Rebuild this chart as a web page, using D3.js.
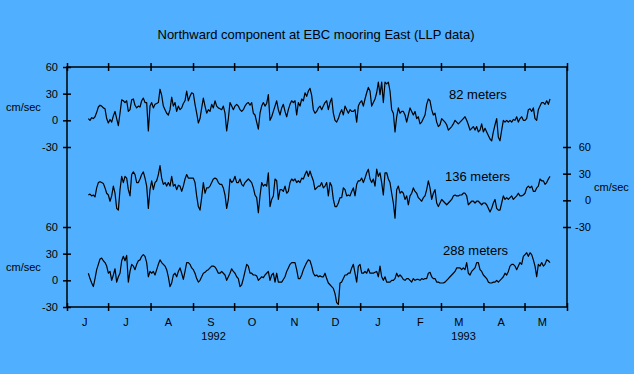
<!DOCTYPE HTML>
<html>
  <head>
    <meta charset="utf-8">
    <style>
      body { margin: 0; background: #50b0ff; }
      svg text { font-family: "Liberation Sans", Arial, sans-serif; fill: #000; }
    </style>
  </head>
  <body>

    <script type="text/javascript" src="https://cdn.jsdelivr.net/npm/d3@7/dist/d3.min.js"></script>

    <script>

        // *** DATA ***

        var titleText = 'Northward component at EBC mooring East (LLP data)';
        var unitLabel = 'cm/sec';
        var depthLabels = ['82 meters', '136 meters', '288 meters'];

        // regular sampling, first sample and spacing
        var startTime = Date.UTC(1992, 5, 16, 14);
        var stepHours = 29.2;

        // Northward velocity (cm/sec) at 82 m
        var v82 = [2,0,3,2,4,9,15,17,16,14,13,2,-3,1,-2,5,10,2,-6,8,
            23,22,20,22,10,12,23,24,17,14,16,15,22,25,20,20,-12,16,20,14,
            18,19,20,35,28,16,12,8,6,12,26,16,20,10,16,12,14,19,22,33,
            22,27,31,30,18,8,-3,2,14,25,16,8,12,10,18,14,22,16,14,13,
            12,16,8,-12,2,20,16,12,16,18,16,12,10,12,16,19,20,17,20,8,
            6,-2,-10,8,16,20,16,19,29,0,4,10,16,22,12,6,14,18,10,4,
            12,18,22,20,22,6,20,16,24,22,31,27,33,36,28,12,8,10,14,16,
            12,16,20,22,12,
            20,25,8,0,-2,2,8,12,6,16,12,8,12,10,10,12,-2,16,20,22,
            16,24,31,37,33,16,20,24,31,43,29,43,20,43,41,43,33,12,8,-13,
            4,14,8,10,10,6,-2,6,14,10,6,10,2,4,-4,-2,2,6,18,24,
            22,12,6,8,-2,-7,-5,2,0,-2,-5,-11,-9,-7,-4,0,-2,-4,-2,0,
            2,4,0,-5,-11,-9,-7,-11,-7,-13,-11,-4,-13,-9,-13,-17,-21,-23,-13,-5,
            2,-19,-23,-11,0,-2,0,-2,0,-2,1,0,4,-2,2,4,0,0,2,12,
            13,10,14,2,0,12,16,20,20,18,22,18,24];

        // Northward velocity (cm/sec) at 136 m
        var v136 = [6,7,5,6,4,14,20,21,20,19,14,8,6,-1,5,16,8,-9,-11,12,
            27,20,27,25,12,5,29,32,29,20,20,24,29,32,25,16,-9,12,22,12,
            20,22,29,39,25,18,20,16,20,16,27,16,18,12,17,16,10,16,24,29,
            25,25,25,25,20,5,-7,-11,3,20,8,14,14,16,20,24,25,24,20,18,
            18,14,6,-9,1,24,20,22,27,20,20,24,18,16,20,22,24,22,20,14,
            6,3,-14,5,20,16,18,16,31,-7,1,5,24,22,1,12,12,10,16,8,
            10,20,24,22,24,20,22,20,25,24,29,33,27,33,27,22,12,14,16,16,
            20,14,16,20,5,
            20,16,1,-7,-7,-3,3,3,14,12,5,6,5,10,14,5,18,22,22,25,
            20,25,31,35,24,20,24,16,35,27,31,20,6,31,31,24,20,8,-3,-20,
            12,16,8,10,8,1,5,-5,5,8,14,10,8,3,1,-1,3,5,12,22,
            14,1,8,12,-3,-7,-3,1,-1,-3,-5,-3,-1,1,5,6,5,5,6,6,
            8,8,5,-5,-3,-1,-1,-3,-1,-1,-3,-5,-3,-3,-5,-9,-13,-9,-3,1,
            -9,-11,-11,-3,5,1,3,1,3,5,1,3,5,8,5,5,6,8,14,16,
            14,16,10,10,14,16,24,22,22,18,20,24,27];

        // Northward velocity (cm/sec) at 288 m
        var v288 = [8,2,-3,-7,2,12,18,24,25,22,20,16,8,10,0,6,13,-2,4,8,
            22,27,22,28,-2,10,18,16,12,18,22,23,27,29,27,20,4,10,8,10,
            6,12,18,23,20,18,16,12,4,-7,-3,6,8,4,10,14,8,1,10,20,
            20,18,14,12,8,2,-2,0,4,8,9,11,12,14,16,16,15,12,8,8,
            10,8,6,0,4,8,13,10,8,4,2,-7,-5,2,10,18,16,8,8,6,
            6,5,0,2,4,3,6,8,10,0,6,8,-2,8,-2,-2,-2,1,4,10,
            14,18,20,20,20,12,2,2,6,12,16,20,23,22,16,8,5,6,4,5,
            4,4,8,2,-3,
            -5,-7,-9,-15,-25,-27,-3,-2,2,6,6,8,8,14,18,8,-2,16,18,8,
            8,10,8,13,8,8,8,9,10,4,16,4,0,4,-2,-2,-2,0,0,2,
            8,4,6,4,1,0,2,2,0,-2,2,0,1,1,0,2,1,2,2,8,
            9,4,2,2,-2,-2,-3,-3,-3,-2,0,2,4,6,8,10,14,14,14,12,
            14,12,20,8,6,10,12,14,20,20,12,10,6,4,2,-2,-3,-3,-2,-2,
            0,-2,0,2,4,8,6,10,16,18,18,16,12,16,20,18,27,29,31,27,
            31,29,23,16,4,18,16,20,16,18,23,22,20];

        var series = [v82, v136, v288];

        var yTicks = [60, 30, 0, -30];
        var monthLabels = ['J','J','A','S','O','N','D','J','F','M','A','M'];
        var yearLabels = ['1992', '1993'];

        // *** LAYOUT ***

        var W = 634, H = 374;
        var plotL = 67, plotR = 567, plotT = 67, plotB = 307;
        var panelH = 80;      // one 90 cm/sec band
        var tickLen = 4;
        var bg = '#50b0ff';

        var svg = d3.select('body').append('svg')
            .attr('width', W)
            .attr('height', H);

        svg.append('rect')
            .attr('width', W)
            .attr('height', H)
            .style('fill', bg);

        // *** SCALES ***

        var tStart = Date.UTC(1992, 5, 1), tEnd = Date.UTC(1993, 5, 1);
        var x = d3.scaleUtc()
            .domain([tStart, tEnd])
            .range([plotL, plotR]);

        var yScales = series.map(function(d, ii) {
            var top = plotT + ii * panelH;
            return d3.scaleLinear().domain([-30, 60]).range([top + panelH, top]);
        });

        // plain hyphen minus, like the original
        var fmtTick = function(d) { return String(d); };

        // *** FRAME ***

        svg.append('rect')
            .attr('x', plotL)
            .attr('y', plotT)
            .attr('width', plotR - plotL)
            .attr('height', plotB - plotT)
            .style('fill', 'none')
            .style('stroke', '#000')
            .style('stroke-width', 1.5);

        // month ticks cross the top and bottom edges
        var months = d3.utcMonth.range(tStart, tEnd + 1);

        var topAxis = svg.append('g')
            .attr('transform', 'translate(0,' + plotT + ')')
            .call(d3.axisTop(x).tickValues(months).tickSize(tickLen).tickFormat(''));
        topAxis.select('.domain').remove();
        topAxis.selectAll('.tick line').attr('y1', tickLen);

        var botAxis = svg.append('g')
            .attr('transform', 'translate(0,' + plotB + ')')
            .call(d3.axisBottom(x).tickValues(months).tickSize(tickLen).tickFormat(''));
        botAxis.select('.domain').remove();
        botAxis.selectAll('.tick line').attr('y1', -tickLen);

        svg.selectAll('.tick line').style('stroke-width', 1.5);

        // month letters, a little left of mid-month
        svg.append('g').selectAll('text')
            .data(months.slice(0, 12))
            .enter()
            .append('text')
            .attr('x', function(d) { return x(d3.utcDay.offset(d, 13)); })
            .attr('y', 326)
            .attr('text-anchor', 'middle')
            .style('font-size', '11px')
            .text(function(d, ii) { return monthLabels[ii]; });

        // year labels centred under their months
        var yearSpans = [[tStart, Date.UTC(1993, 0, 1)], [Date.UTC(1993, 0, 1), tEnd]];
        svg.append('g').selectAll('text')
            .data(yearSpans)
            .enter()
            .append('text')
            .attr('x', function(d) { return (x(d[0]) + x(d[1])) / 2; })
            .attr('y', 340)
            .attr('text-anchor', 'middle')
            .style('font-size', '11px')
            .text(function(d, ii) { return yearLabels[ii]; });

        // *** Y AXES ***

        // left axis for 82 m and 288 m, right axis for 136 m
        [0, 2].forEach(function(ii) {
            var g = svg.append('g')
                .attr('transform', 'translate(' + plotL + ',0)')
                .call(d3.axisLeft(yScales[ii]).tickValues(yTicks).tickFormat(fmtTick)
                    .tickSize(tickLen).tickPadding(5));
            g.select('.domain').remove();
            g.selectAll('.tick line').attr('x1', tickLen).style('stroke-width', 1.5);
            g.selectAll('text').style('font-size', '11px');
            g.attr('font-family', null);

            svg.append('text')
                .attr('x', 6)
                .attr('y', yScales[ii](15) + 4)
                .style('font-size', '11px')
                .text(unitLabel);
        });

        var gR = svg.append('g')
            .attr('transform', 'translate(' + plotR + ',0)')
            .call(d3.axisRight(yScales[1]).tickValues(yTicks).tickFormat(fmtTick).tickSize(tickLen));
        gR.select('.domain').remove();
        gR.selectAll('.tick line').attr('x1', -tickLen).style('stroke-width', 1.5);
        gR.selectAll('text')
            .attr('x', 24)
            .attr('text-anchor', 'end')
            .style('font-size', '11px');
        gR.attr('font-family', null);

        svg.append('text')
            .attr('x', 594)
            .attr('y', yScales[1](15) + 4)
            .style('font-size', '11px')
            .text(unitLabel);

        // *** SERIES ***

        series.forEach(function(vals, ii) {
            var y = yScales[ii];
            var line = d3.line()
                .x(function(d, jj) { return x(startTime + jj * stepHours * 3600e3); })
                .y(function(d) { return y(d); });

            svg.append('path')
                .datum(vals)
                .attr('d', line)
                .style('fill', 'none')
                .style('stroke', '#000')
                .style('stroke-width', 1.2)
                .style('stroke-linejoin', 'round');
        });

        // depth labels
        var labelPos = [[449, 99], [445, 180.5], [443, 255]];
        svg.append('g').selectAll('text')
            .data(depthLabels)
            .enter()
            .append('text')
            .attr('x', function(d, ii) { return labelPos[ii][0]; })
            .attr('y', function(d, ii) { return labelPos[ii][1]; })
            .style('font-size', '13px')
            .text(function(d) { return d; });

        // title
        svg.append('text')
            .attr('x', 316)
            .attr('y', 38.5)
            .attr('text-anchor', 'middle')
            .style('font-size', '13px')
            .text(titleText);

    </script>
  </body>
</html>
